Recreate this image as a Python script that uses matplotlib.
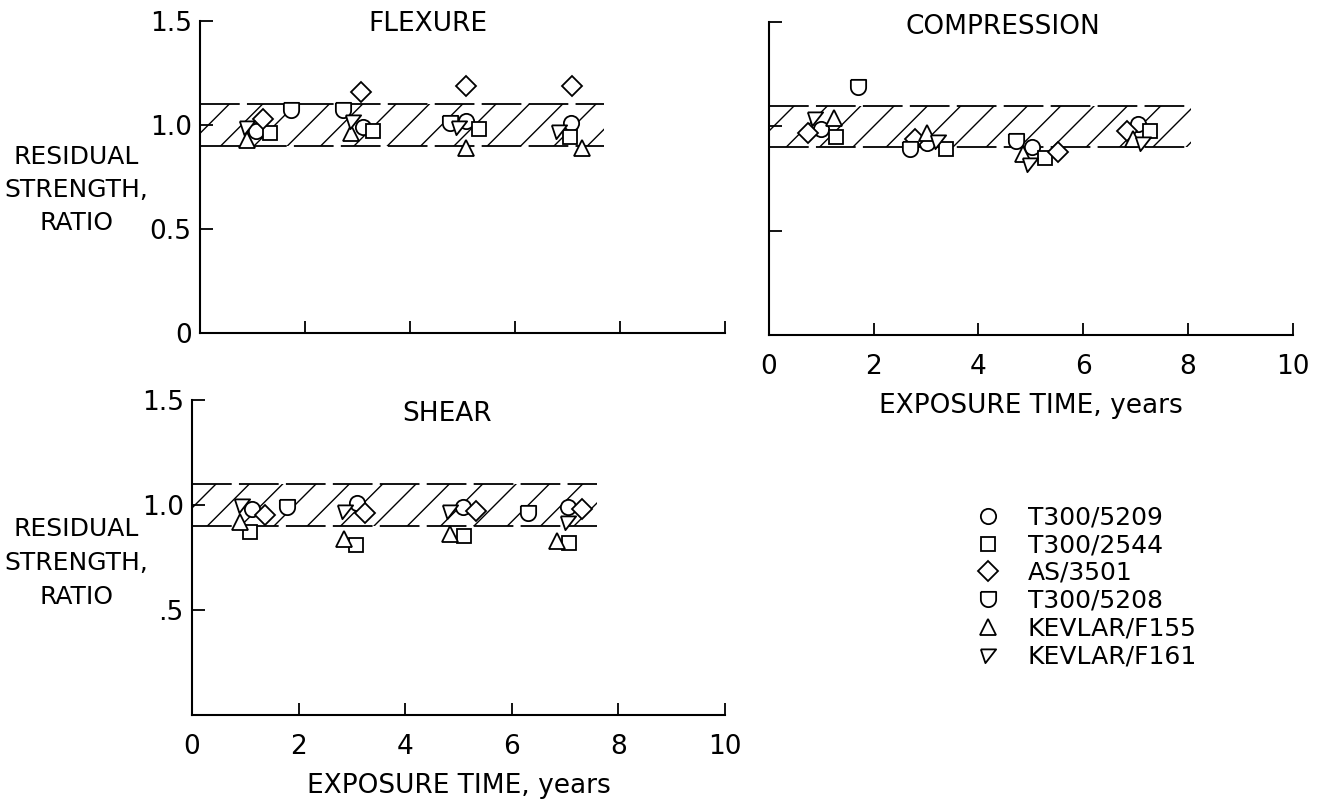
import numpy as np
import matplotlib.pyplot as plt
from matplotlib.path import Path

plt.rcParams['font.family'] = ['DejaVu Sans']
plt.rcParams['hatch.linewidth'] = 1.0

# material names, same order everywhere
materials = ['T300/5209', 'T300/2544', 'AS/3501', 'T300/5208', 'KEVLAR/F155', 'KEVLAR/F161']

# flexure: (years, ratio) per material
flex_5209 = ([1.06, 3.10, 5.07, 7.07], [0.97, 0.99, 1.02, 1.01])
flex_2544 = ([1.33, 3.30, 5.31, 7.05], [0.96, 0.97, 0.98, 0.94])
flex_3501 = ([1.21, 3.06, 5.07, 7.08], [1.03, 1.16, 1.19, 1.19])
flex_5208 = ([1.73, 2.73, 4.76], [1.07, 1.07, 1.01])
flex_f155 = ([0.89, 2.87, 5.07, 7.27], [0.93, 0.96, 0.89, 0.89])
flex_f161 = ([0.89, 2.92, 4.94, 6.83], [0.99, 1.02, 0.99, 0.97])

# compression
comp_5209 = ([1.00, 3.02, 5.03, 7.05], [0.99, 0.92, 0.90, 1.01])
comp_2544 = ([1.28, 3.39, 5.27, 7.28], [0.95, 0.89, 0.85, 0.98])
comp_3501 = ([0.75, 2.79, 5.51, 6.83], [0.97, 0.94, 0.88, 0.98])
comp_5208 = ([1.70, 2.69, 4.71], [1.19, 0.89, 0.93])
comp_f155 = ([1.24, 3.01, 4.85, 6.95], [1.04, 0.97, 0.87, 0.94])
comp_f161 = ([0.88, 3.23, 4.98, 7.14], [1.04, 0.93, 0.82, 0.92])

# shear
shear_5209 = ([1.12, 3.09, 5.08, 7.06], [0.98, 1.01, 0.99, 0.99])
shear_2544 = ([1.09, 3.08, 5.10, 7.08], [0.87, 0.81, 0.85, 0.82])
shear_3501 = ([1.37, 3.25, 5.33, 7.31], [0.95, 0.96, 0.97, 0.98])
shear_5208 = ([1.78, 6.31], [0.99, 0.96])
shear_f155 = ([0.90, 2.85, 4.85, 6.85], [0.92, 0.84, 0.86, 0.83])
shear_f161 = ([0.93, 2.87, 4.84, 7.06], [1.00, 0.97, 0.97, 0.92])

# scatter band (lower, upper, end year) for each panel
band_lo, band_hi = 0.9, 1.1
flex_band_end = 7.7
comp_band_end = 8.05
shear_band_end = 7.6

# custom marker shapes
t = np.linspace(0, -np.pi, 20)
shield = Path(np.vstack([[[-1, 1], [1, 1]], np.column_stack([np.cos(t), np.sin(t)]), [[-1, 1]]]))
skew_tri = Path([[-1, 0.8], [1, 0.8], [-0.4, -1.0], [-1, 0.8]])
markers = ['o', 's', 'D', shield, '^', skew_tri]
msizes = [11, 10, 10, 11, 11, 11]


def panel(ax, data, band_end, title, title_x, title_y):
    xs = np.linspace(0, band_end, 2)
    ax.fill_between(xs, band_lo, band_hi, facecolor='none', edgecolor='black',
                    hatch='/', linewidth=0, zorder=1)
    for yb in (band_lo, band_hi):
        ax.plot(xs, [yb, yb], color='black', lw=1.3, dashes=(22, 4), zorder=2)
    handles = []
    for (x, y), m, ms, name in zip(data, markers, msizes, materials):
        h, = ax.plot(x, y, linestyle='none', marker=m, markersize=ms,
                     markerfacecolor='white', markeredgecolor='black',
                     markeredgewidth=1.3, zorder=3, label=name)
        handles.append(h)
    ax.set_xlim(0, 10)
    ax.set_ylim(0, 1.5)
    ax.spines['top'].set_visible(False)
    ax.spines['right'].set_visible(False)
    for s in ('left', 'bottom'):
        ax.spines[s].set_linewidth(1.5)
    ax.tick_params(direction='in', length=9, width=1.3, labelsize=19)
    ax.tick_params(axis='x', pad=14)
    ax.tick_params(axis='y', pad=6)
    ax.set_xticks([0, 2, 4, 6, 8, 10])
    ax.text(title_x, title_y, title, transform=ax.transAxes, ha='center',
            va='center', fontsize=19)
    return handles


fig = plt.figure(figsize=(13.19, 8.06), dpi=100)
ax1 = fig.add_axes([0.1516, 0.5869, 0.398, 0.387])
ax2 = fig.add_axes([0.5830, 0.5844, 0.397, 0.388])
ax3 = fig.add_axes([0.1456, 0.1129, 0.404, 0.391])

handles = panel(ax1, [flex_5209, flex_2544, flex_3501, flex_5208, flex_f155, flex_f161],
                flex_band_end, 'FLEXURE', 0.434, 0.99)
panel(ax2, [comp_5209, comp_2544, comp_3501, comp_5208, comp_f155, comp_f161],
      comp_band_end, 'COMPRESSION', 0.447, 0.985)
panel(ax3, [shear_5209, shear_2544, shear_3501, shear_5208, shear_f155, shear_f161],
      shear_band_end, 'SHEAR', 0.478, 0.955)

ax1.set_yticks([0, 0.5, 1.0, 1.5])
ax1.set_yticklabels(['0', '0.5', '1.0', '1.5'])
ax1.set_xticklabels([])

ax2.set_yticks([0, 0.5, 1.0, 1.5])
ax2.set_yticklabels([])
ax2.set_xlabel('EXPOSURE TIME, years', fontsize=19, labelpad=9)

ax3.set_yticks([0.5, 1.0, 1.5])
ax3.set_yticklabels(['.5', '1.0', '1.5'])
ax3.set_xlabel('EXPOSURE TIME, years', fontsize=19, labelpad=9)

ylab = 'RESIDUAL\nSTRENGTH,\nRATIO'
fig.text(76 / 1319, 1 - 190 / 806, ylab, ha='center', va='center',
         multialignment='center', fontsize=18, linespacing=1.5)
fig.text(76 / 1319, 1 - 563 / 806, ylab, ha='center', va='center',
         multialignment='center', fontsize=18, linespacing=1.5)

fig.legend(handles, materials, loc='upper left',
           bbox_to_anchor=(950 / 1319, 1 - 483 / 806), frameon=False,
           fontsize=18, labelspacing=0.15, handletextpad=1.0, handlelength=1.2)

fig.savefig('out.png', dpi=100)
